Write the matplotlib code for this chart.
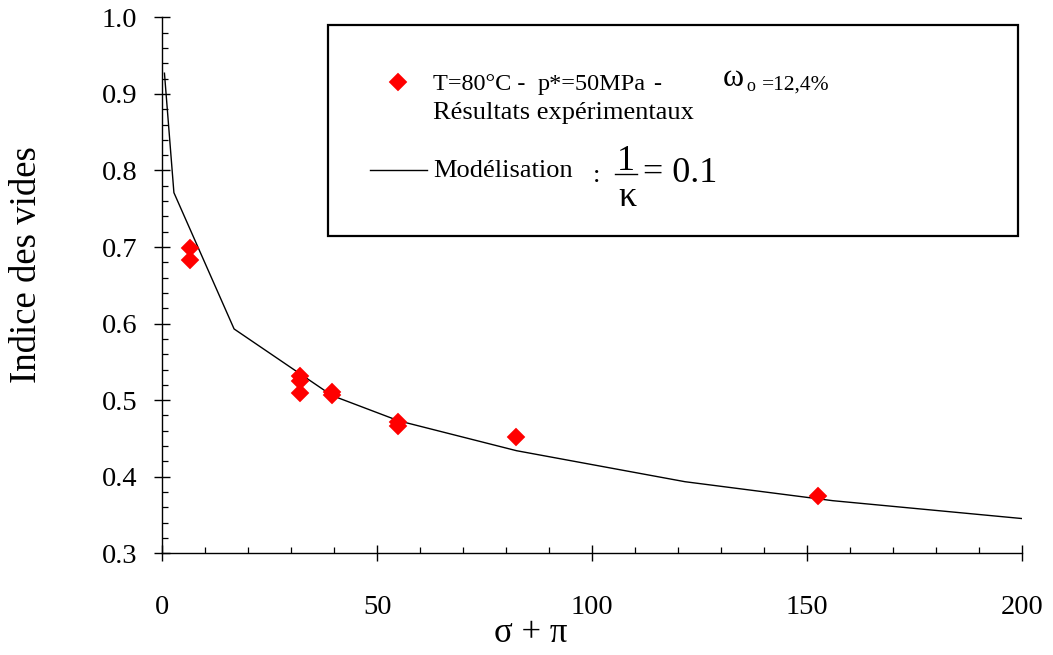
import matplotlib
matplotlib.use("Agg")
import matplotlib.pyplot as plt
from matplotlib.ticker import MultipleLocator
from matplotlib.lines import Line2D
from matplotlib.patches import Rectangle
import matplotlib.transforms as mtransforms

# ---- data ----
exp_x = [6.4, 6.4, 32.0, 32.0, 32.0, 39.5, 39.5, 54.9, 54.9, 82.3, 152.6]
exp_y = [0.699, 0.683, 0.531, 0.525, 0.509, 0.511, 0.507, 0.471, 0.466, 0.452, 0.375]

model_x = [0.5, 2.7, 16.7, 39.5, 55.0, 82.4, 121.6, 156.0, 202.6]
model_y = [0.927, 0.771, 0.593, 0.506, 0.473, 0.434, 0.3935, 0.3687, 0.344]

x_ticks = [0, 50, 100, 150, 200]
y_ticks = [0.3, 0.4, 0.5, 0.6, 0.7, 0.8, 0.9, 1.0]

xlabel = "σ + π"
ylabel = "Indice des vides"
leg_temp = "T=80°C -"
leg_press = "p*=50MPa"
leg_dash = "-"
leg_omega = "ω"
leg_sub = "o"
leg_pct = "=12,4%"
leg_line2 = "Résultats expérimentaux"
leg_model = "Modélisation"
frac_num = "1"
frac_den = "κ"
frac_val = "= 0.1"

plt.rcParams['font.family'] = ['Liberation Serif', 'DejaVu Serif']

W, H = 1053, 655
fig = plt.figure(figsize=(W / 100, H / 100), dpi=100)
ax = fig.add_axes([162.3 / W, 1 - 553.3 / H, (1022 - 162.3) / W, (553.3 - 17.3) / H])

ax.plot(model_x, model_y, color='black', lw=1.0, zorder=2)
ax.plot(exp_x, exp_y, linestyle='none', marker='D', markersize=9.0,
        color='#ff0000', mec='#ff0000', mew=0.3, zorder=3)

ax.set_xlim(0, 200)
ax.set_ylim(0.3, 1.0)
ax.set_xticks(x_ticks)
ax.set_yticks(y_ticks)
ax.set_xticklabels([str(v) for v in x_ticks])
ax.set_yticklabels([f"{v:.1f}" for v in y_ticks])
ax.xaxis.set_minor_locator(MultipleLocator(10))
ax.yaxis.set_minor_locator(MultipleLocator(0.02))
ax.tick_params(which='major', direction='inout', length=12, width=1.0,
               labelsize=20.5, colors='black')
ax.tick_params(which='minor', direction='in', length=4.5, width=0.9)
ax.tick_params(axis='x', which='major', pad=24)
ax.tick_params(axis='y', which='major', pad=12)
for s in ['top', 'right']:
    ax.spines[s].set_visible(False)
for s in ['left', 'bottom']:
    ax.spines[s].set_linewidth(1.0)

ax.set_xlabel(xlabel, fontsize=25)
ax.xaxis.set_label_coords((531 - 162.3) / (1022 - 162.3), (553.3 - 617) / 536)
ax.set_ylabel(ylabel, fontsize=26.5)
ax.yaxis.set_label_coords((44 - 162.3) / (1022 - 162.3), (553.3 - 265) / 536)

# ---- legend (pixel coords from top-left) ----
px = mtransforms.Affine2D().scale(1 / W, -1 / H).translate(0, 1) + fig.transFigure

fig.patches.append(Rectangle((327.7, 236), 1018 - 327.7, -(236 - 25), transform=px,
                             fill=False, edgecolor='black', lw=1.6))
fig.lines.append(Line2D([398.3], [82], transform=px, marker='D', markersize=9.0,
                        color='#ff0000', mec='#ff0000', mew=0.3, linestyle='none'))
fs = 19
fs1 = 17.5
fig.text(433, 90, leg_temp, transform=px, fontsize=fs1, va='baseline', ha='left')
fig.text(538, 90, leg_press, transform=px, fontsize=fs1, va='baseline', ha='left')
fig.text(653, 90, leg_dash, transform=px, fontsize=fs1, va='baseline', ha='left')
fig.text(723, 86, leg_omega, transform=px, fontsize=23, va='baseline', ha='left')
fig.text(746, 91, leg_sub, transform=px, fontsize=13, va='baseline', ha='left')
fig.text(762, 90, leg_pct, transform=px, fontsize=15.5, va='baseline', ha='left')
fig.text(433, 119, leg_line2, transform=px, fontsize=fs, va='baseline', ha='left')
fig.lines.append(Line2D([370, 427], [170, 170], transform=px, color='black', lw=1.0))
fig.text(433, 177, leg_model, transform=px, fontsize=fs, va='baseline', ha='left')
fig.text(597, 182, ":", transform=px, fontsize=fs, va='baseline', ha='center')
fig.text(626, 170, frac_num, transform=px, fontsize=26, va='baseline', ha='center')
fig.lines.append(Line2D([615, 637], [174, 174], transform=px, color='black', lw=1.0))
fig.text(627, 206, frac_den, transform=px, fontsize=26, va='baseline', ha='center')
fig.text(643, 182, frac_val, transform=px, fontsize=26, va='baseline', ha='left')

fig.savefig("out.png", dpi=100)
